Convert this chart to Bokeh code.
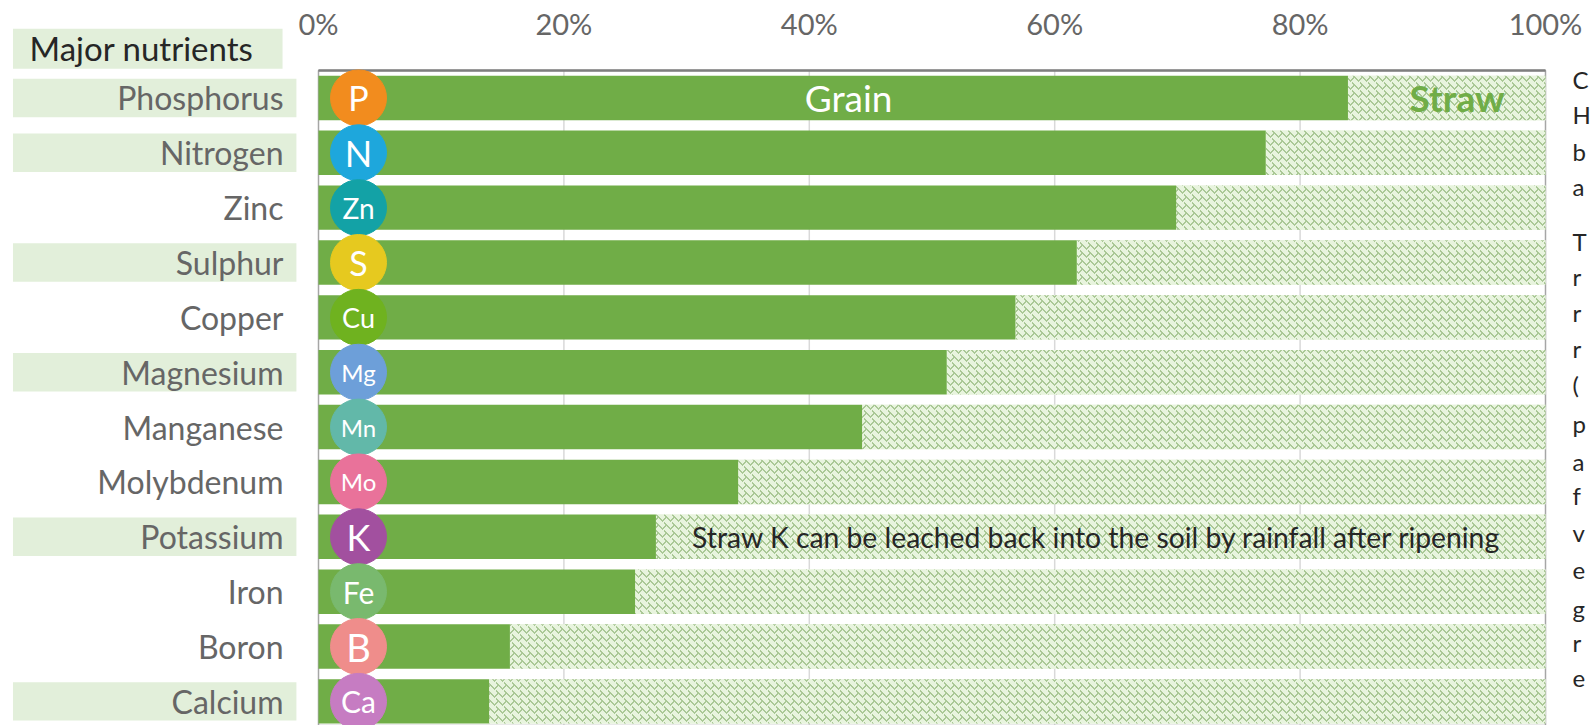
import base64, struct, zlib
from bokeh.plotting import figure
from bokeh.models import Range1d, LinearAxis, FixedTicker, ColumnDataSource, ImageURLTexture
from bokeh.core.properties import value
from bokeh.embed import file_html
from bokeh.resources import INLINE

nutrients = ["Phosphorus", "Nitrogen", "Zinc", "Sulphur", "Copper", "Magnesium",
             "Manganese", "Molybdenum", "Potassium", "Iron", "Boron", "Calcium"]
symbols = ["P", "N", "Zn", "S", "Cu", "Mg", "Mn", "Mo", "K", "Fe", "B", "Ca"]
grain = [83.9, 77.2, 69.9, 61.8, 56.8, 51.2, 44.3, 34.2, 27.5, 25.8, 15.6, 13.9]
straw = [16.1, 22.8, 30.1, 38.2, 43.2, 48.8, 55.7, 65.8, 72.5, 74.2, 84.4, 86.1]
major = ["Phosphorus", "Nitrogen", "Sulphur", "Magnesium", "Potassium", "Calcium"]
circle_colors = ["#f28c1e", "#1ea7dc", "#13a2a6", "#e6c91f", "#6fb21f", "#6d9fd9",
                 "#62b8a9", "#e9729a", "#a2509f", "#79b96e", "#ef8d8b", "#c67cc2"]
symbol_sizes = ["34px", "36px", "28px", "34px", "27px", "24px", "24px", "24px", "36px", "30px", "38px", "30px"]
ticks = [0, 20, 40, 60, 80, 100]
cut_off_letters = ["C", "H", "b", "a", "T", "r", "r", "r", "(", "p", "a", "f", "v", "e", "g", "r", "e"]
letter_rows = [-0.33, 0.3, 0.97, 1.61, 2.62, 3.26, 3.91, 4.56, 5.22, 5.93, 6.62, 7.25, 7.93, 8.62, 9.3, 9.92, 10.58]

W, H = 1592, 725
FONT = "Lato"
PX_X = 12.27    # pixels per percent
PX_Y = 54.86    # pixels per row
y_idx = list(range(12))
circle_x = [3.26] * 12


def weave_tile(n=16, bg=(232, 244, 222), ink=(170, 200, 150)):
    """One repeating tile of the straw fill, as a PNG data URL."""
    px = [[bg for _ in range(n)] for _ in range(n)]
    strokes = [(0, 2, 6, 8), (8, 10, 14, 16), (6, 8, 10, 4), (14, 0, 18, -4),
               (8, 2, 14, 8), (0, 10, 6, 16), (14, 8, 18, 4), (6, 0, 10, -4)]
    for a, b, c, d in strokes:
        steps = max(abs(c - a), abs(d - b))
        for k in range(steps + 1):
            x = a + (c - a) * k // steps
            y = b + (d - b) * k // steps
            px[y % n][x % n] = ink
            px[(y + 1) % n][x % n] = ink
    raw = b"".join(b"\x00" + bytes(v for c in row for v in c) for row in px)

    def chunk(t, d):
        return struct.pack(">I", len(d)) + t + d + struct.pack(">I", zlib.crc32(t + d))
    png = (b"\x89PNG\r\n\x1a\n" + chunk(b"IHDR", struct.pack(">IIBBBBB", n, n, 8, 2, 0, 0, 0))
           + chunk(b"IDAT", zlib.compress(raw)) + chunk(b"IEND", b""))
    return "data:image/png;base64," + base64.b64encode(png).decode()


p = figure(width=W, height=H, output_backend="svg", toolbar_location=None,
           x_range=Range1d(-318 / PX_X, (W - 318) / PX_X),
           y_range=Range1d(-0.5 + (H - 70) / PX_Y, -0.5 - 70 / PX_Y),
           x_axis_location=None, y_axis_location=None,
           min_border_left=0, min_border_right=0, min_border_top=0, min_border_bottom=0,
           outline_line_color=None, background_fill_color="white")
p.title = None
p.grid.visible = False

top_axis = LinearAxis(ticker=FixedTicker(ticks=ticks), fixed_location=-0.86,
                      major_label_overrides={t: f"{t}%" for t in ticks},
                      axis_line_color=None, major_tick_line_color=None, minor_tick_line_color=None,
                      major_label_text_font=FONT, major_label_text_font_size="29px",
                      major_label_text_color="#666666", major_label_standoff=4)
p.add_layout(top_axis, "above")
left_axis = LinearAxis(ticker=FixedTicker(ticks=y_idx), fixed_location=0,
                       major_label_overrides=dict(zip(y_idx, nutrients)),
                       axis_line_color=None, major_tick_line_color=None, minor_tick_line_color=None,
                       major_label_text_font=FONT, major_label_text_font_size="32px",
                       major_label_text_color="#666666", major_label_standoff=29)
p.add_layout(left_axis, "left")

rows = [nutrients.index(n) for n in major]
p.quad(left=-24.9, right=-1.8, top=[r - 0.35 for r in rows], bottom=[r + 0.35 for r in rows],
       fill_color="#e2efda", line_color=None)
p.quad(left=[-24.9], right=[-2.93], top=[-1.26], bottom=[-0.53], fill_color="#e2efda", line_color=None)
p.text(x=[-23.55], y=[-0.91], text=["Major nutrients"], text_font=value(FONT), text_font_size="33px",
       text_color="#262626", text_baseline="middle", text_align="left")

ybot = -0.5 + (H - 70) / PX_Y
for t in ticks[1:-1]:
    p.line([t, t], [-0.5, ybot], line_color="#d9d9d9", line_width=1.5)
p.quad(left=[0], right=[100], top=[-0.5], bottom=[ybot], fill_color=None, line_color="#a6a6a6", line_width=1.5)
p.line([0, 100], [-0.5, -0.5], line_color="#7f7f7f", line_width=2.5)

weave = ImageURLTexture(url=weave_tile(), repetition="repeat")
src = ColumnDataSource(dict(y=y_idx, grain=grain, straw=straw,
                            end=[g + s for g, s in zip(grain, straw)],
                            sym=symbols, col=circle_colors, size=symbol_sizes, cx=circle_x))
p.hbar(y="y", left="grain", right="end", height=0.81, source=src, fill_color="#e6f2dc",
       line_color=None, hatch_pattern=value("weave"), hatch_extra={"weave": weave},
       hatch_color="#9fc088", hatch_scale=16, hatch_weight=2)
p.hbar(y="y", left=0, right="grain", height=0.81, source=src, fill_color="#70ad47", line_color=None)

p.scatter(x="cx", y="y", size=56, marker="circle", color="col", source=src)
p.text(x="cx", y="y", text="sym", source=src, text_color="white", text_font=value(FONT),
       text_font_size="size", text_align="center", text_baseline="middle")

p.text(x=[43.2], y=[0], text=["Grain"], text_color="white", text_font=value(FONT),
       text_font_size="37px", text_align="center", text_baseline="middle")
p.text(x=[92.8], y=[0], text=["Straw"], text_color="#70ad47", text_font=value(FONT),
       text_font_style="bold", text_font_size="37px", text_align="center", text_baseline="middle")
p.text(x=[30.45], y=[8], text=["Straw K can be leached back into the soil by rainfall after ripening"],
       text_color="#262626", text_font=value(FONT), text_font_size="28.3px",
       text_align="left", text_baseline="middle")

p.text(x=[102.2] * len(cut_off_letters), y=letter_rows, text=cut_off_letters, text_font=value(FONT),
       text_font_size="24px", text_color="#262626", text_baseline="middle", text_align="left")

open("out.html", "w").write(file_html(p, INLINE))
